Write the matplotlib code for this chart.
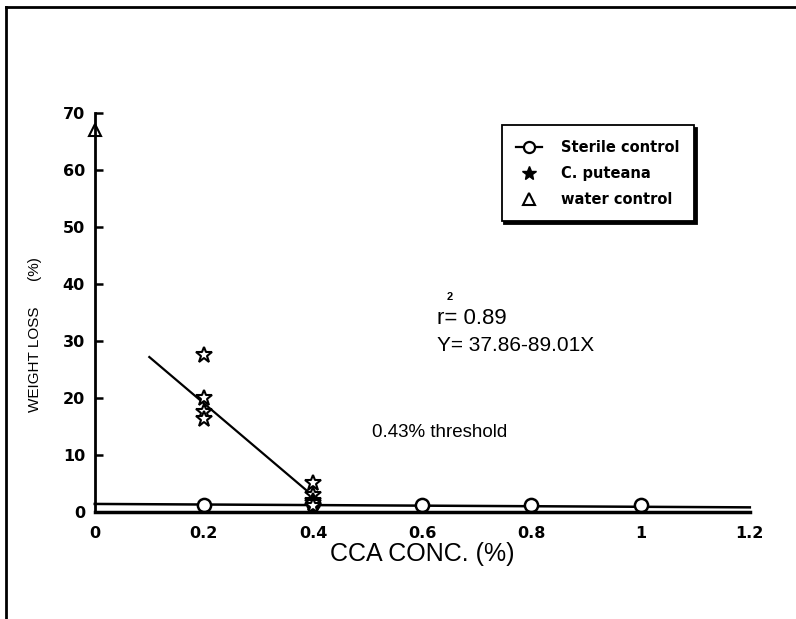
import matplotlib
matplotlib.use('Agg')
import matplotlib.pyplot as plt
from matplotlib.lines import Line2D

# Data
sterile_x = [0.2, 0.4, 0.6, 0.8, 1.0]
sterile_y = [1.3, 1.5, 1.2, 1.3, 1.2]
sterile_fit_x = [0.0, 1.2]
sterile_fit_y = [1.4, 0.8]

puteana_x = [0.2, 0.2, 0.2, 0.2, 0.4, 0.4, 0.4, 0.4, 0.4]
puteana_y = [27.5, 20.0, 17.5, 16.3, 5.0, 3.0, 2.0, 1.5, 1.0]
puteana_fit_x = [0.1, 0.4]
puteana_fit_y = [27.2, 2.8]

water_x = [0.0]
water_y = [67.0]

x_ticks = [0, 0.2, 0.4, 0.6, 0.8, 1.0, 1.2]
x_tick_labels = ['0', '0.2', '0.4', '0.6', '0.8', '1', '1.2']
y_ticks = [0, 10, 20, 30, 40, 50, 60, 70]

plt.rcParams['font.family'] = ['Liberation Sans', 'DejaVu Sans']

fig = plt.figure(figsize=(7.96, 6.19), dpi=100)
ax = fig.add_axes([0.119, 0.173, 0.823, 0.644])

# sterile control: fitted line + open circles
ax.plot(sterile_fit_x, sterile_fit_y, color='black', lw=1.8, clip_on=False)
ax.plot(sterile_x, sterile_y, 'o', ms=9.5, mfc='white', mec='black', mew=1.8, clip_on=False)

# C. puteana: regression line + open stars
ax.plot(puteana_fit_x, puteana_fit_y, color='black', lw=1.6)
ax.plot(puteana_x, puteana_y, '*', ms=12, mfc='white', mec='black', mew=1.5, clip_on=False)

# water control
ax.plot(water_x, water_y, '^', ms=9, mfc='white', mec='black', mew=1.5, clip_on=False)

ax.set_xlim(0, 1.2)
ax.set_ylim(0, 70)
ax.set_xticks(x_ticks)
ax.set_xticklabels(x_tick_labels)
ax.set_yticks(y_ticks)

for s in ['top', 'right']:
    ax.spines[s].set_visible(False)
ax.spines['left'].set_linewidth(2)
ax.spines['bottom'].set_linewidth(2.5)

ax.tick_params(axis='y', direction='in', length=6, width=1.8, pad=7, labelsize=11.5)
ax.tick_params(axis='x', length=0, pad=10, labelsize=11.5)
for lab in ax.get_xticklabels() + ax.get_yticklabels():
    lab.set_fontweight('bold')
    lab.set_family('DejaVu Sans')

ax.set_xlabel('CCA CONC. (%)', fontsize=18)
ax.xaxis.set_label_coords(0.5, -0.075)
ax.set_ylabel('WEIGHT LOSS      (%)', fontsize=11)
ax.yaxis.set_label_coords(-0.08, 0.445)

# annotations
ax.text(0.627, 34.0, 'r= 0.89', fontsize=16, va='center', ha='left')
ax.text(0.645, 37.8, '2', fontsize=8, fontweight='bold', va='center', ha='left')
ax.text(0.627, 29.2, 'Y= 37.86-89.01X', fontsize=15, va='center', ha='left')
ax.text(0.507, 13.9, '0.43% threshold', fontsize=13.5, va='center', ha='left')

# legend
handles = [
    Line2D([], [], color='black', lw=1.6, marker='o', ms=8, mfc='white', mec='black', mew=1.6),
    Line2D([], [], ls='none', marker='*', ms=10, color='black'),
    Line2D([], [], ls='none', marker='^', ms=8, mfc='white', mec='black', mew=1.5),
]
labels = ['Sterile control', 'C. puteana', 'water control']
leg = ax.legend(handles, labels, loc='upper left', bbox_to_anchor=(0.621, 0.97),
                borderaxespad=0, frameon=True, fancybox=False, shadow={'color': 'black', 'alpha': 1},
                prop={'weight': 'bold', 'size': 10.5, 'family': 'DejaVu Sans'},
                handlelength=1.8, labelspacing=0.75, borderpad=1.0, handletextpad=1.3)
leg.get_frame().set_edgecolor('black')
leg.get_frame().set_linewidth(1.3)

# page border (left and top)
fig.add_artist(Line2D([0.008, 0.008], [0, 0.989], color='black', lw=2, transform=fig.transFigure))
fig.add_artist(Line2D([0.008, 1.0], [0.989, 0.989], color='black', lw=2, transform=fig.transFigure))

fig.savefig('out.png', dpi=100)
